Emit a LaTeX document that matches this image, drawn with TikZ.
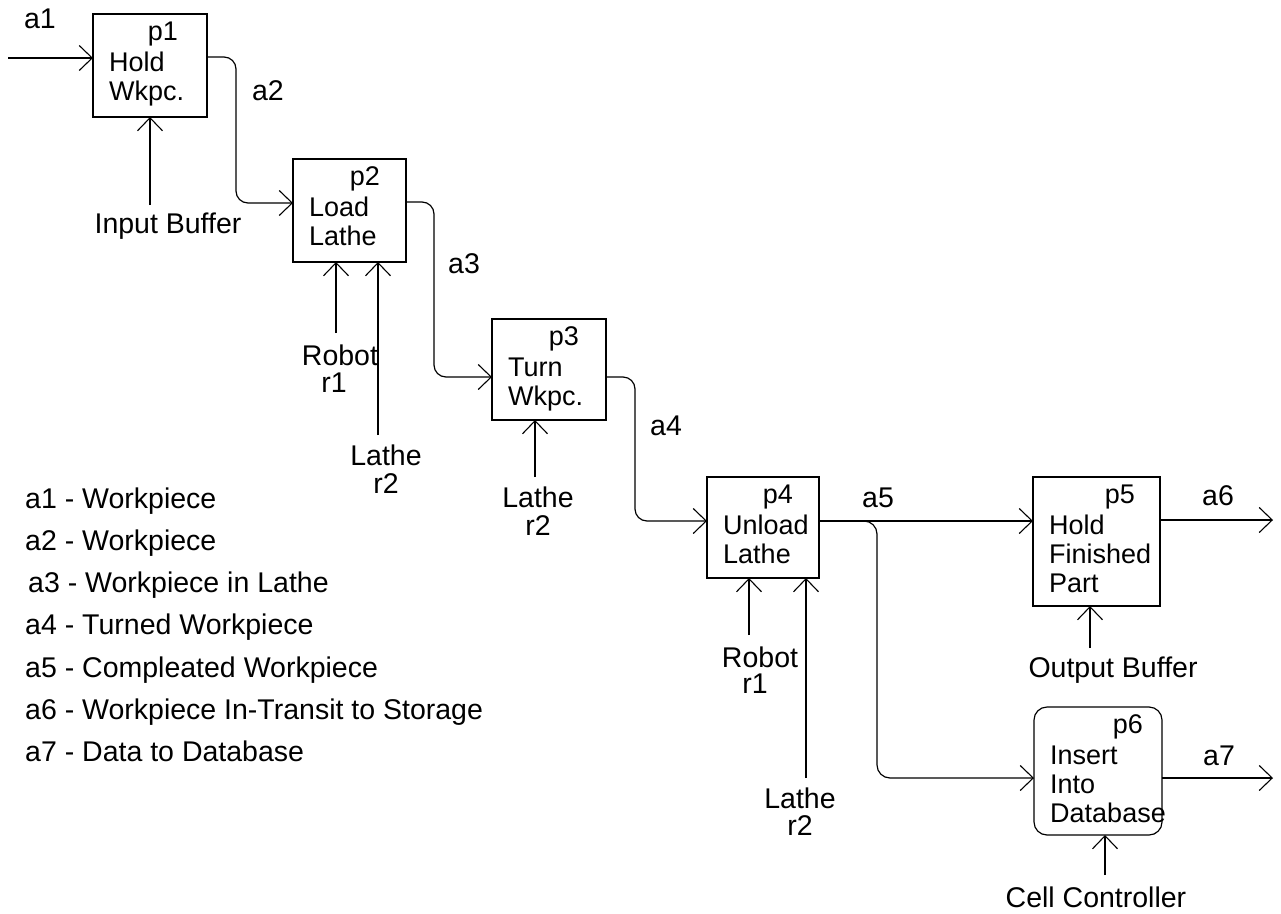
\documentclass[tikz,border=0pt]{standalone}
\usepackage{fontspec}
\setmainfont{Liberation Sans}
\usetikzlibrary{arrows.meta}
\newcommand{\procText}[4]{%
  \node[btxt, anchor=base east] (#1lab) at ([xshift=-#3pt, yshift=-26pt]#1.north east) {#2};
  \foreach \t [count=\i] in {#4} {
    \node[btxt, anchor=base west] (#1line\i) at ([xshift=16pt, yshift={-57pt-29.3pt*(\i-1)}]#1.north west) {\t};
  }
}
\begin{document}
\begin{tikzpicture}[x=1pt,y=-1pt,
  procbox/.style={draw, line width=1.2pt, inner sep=0pt, outer sep=0pt, anchor=north west},
  flow/.style={line width=1.2pt, -{Straight Barb[length=13pt,width=25pt,line width=1.1pt]}},
  elbow/.style={rounded corners=12pt},
  txt/.style={inner sep=0pt, font=\fontsize{28.5}{30}\selectfont},
  btxt/.style={inner sep=0pt, font=\fontsize{27}{29}\selectfont},
]
\useasboundingbox (0,0) rectangle (1281,913);

% process boxes
\node[procbox, minimum width=114pt, minimum height=103pt] (p1) at (93,14) {};
\node[procbox, minimum width=113pt, minimum height=103pt] (p2) at (293,159) {};
\node[procbox, minimum width=114pt, minimum height=101pt] (p3) at (492,319) {};
\node[procbox, minimum width=112pt, minimum height=101pt] (p4) at (707,477) {};
\node[procbox, minimum width=127pt, minimum height=129pt] (p5) at (1033,477) {};
\node[procbox, rounded corners=13pt, minimum width=128pt, minimum height=128pt] (p6) at (1034,707) {};

\procText{p1}{p1}{29}{Hold,Wkpc.}
\procText{p2}{p2}{26}{Load,Lathe}
\procText{p3}{p3}{27}{Turn,Wkpc.}
\procText{p4}{p4}{26}{Unload,Lathe}
\procText{p5}{p5}{25}{Hold,Finished,Part}
\procText{p6}{p6}{19}{Insert,Into,Database}

% flow coordinates
\coordinate (a1s) at (8,58);
\coordinate (k1) at (236,57);
\coordinate (k2) at (236,203);
\coordinate (k3) at (434,202);
\coordinate (k4) at (434,377);
\coordinate (k5) at (635,377);
\coordinate (k6) at (635,521);
\coordinate (k7) at (877,521);
\coordinate (k8) at (877,778);
\coordinate (k9) at (1273,520);
\coordinate (k10) at (1273,778);

\draw[flow] (a1s) -- (a1s -| p1.west);
\draw[flow, elbow] (k1 -| p1.east) -- (k1) -- (k2) -- (k2 -| p2.west);
\draw[flow, elbow] (k3 -| p2.east) -- (k3) -- (k4) -- (k4 -| p3.west);
\draw[flow, elbow] (k5 -| p3.east) -- (k5) -- (k6) -- (k6 -| p4.west);
\draw[flow] (k7 -| p4.east) -- (k7 -| p5.west);
\draw[flow, rounded corners=13pt] (k7 -| p4.east) -- (k7) -- (k8) -- (k8 -| p6.west);
\draw[flow] (k9 -| p5.east) -- (k9);
\draw[flow] (k10 -| p6.east) -- (k10);

% flow labels
\node[txt, anchor=base] (la1) at (40,28) {a1};
\node[txt, anchor=base] (la2) at (268,100) {a2};
\node[txt, anchor=base] (la3) at (464,273) {a3};
\node[txt, anchor=base] (la4) at (666,435) {a4};
\node[txt, anchor=base] (la5) at (878,507) {a5};
\node[txt, anchor=base] (la6) at (1218,505) {a6};
\node[txt, anchor=base] (la7) at (1219,765) {a7};

% resource arrows
\coordinate (c1) at (150,205);
\coordinate (c2) at (336,333);
\coordinate (c3) at (378,435);
\coordinate (c4) at (535,477);
\coordinate (c5) at (749,635);
\coordinate (c6) at (806,778);
\coordinate (c7) at (1090,648);
\coordinate (c8) at (1105,875);
\draw[flow] (c1) -- (c1 |- p1.south);
\draw[flow] (c2) -- (c2 |- p2.south);
\draw[flow] (c3) -- (c3 |- p2.south);
\draw[flow] (c4) -- (c4 |- p3.south);
\draw[flow] (c5) -- (c5 |- p4.south);
\draw[flow] (c6) -- (c6 |- p4.south);
\draw[flow] (c7) -- (c7 |- p5.south);
\draw[flow] (c8) -- (c8 |- p6.south);

% resource labels
\node[txt, anchor=base] (r-ib) at (168,233) {Input Buffer};
\node[txt, anchor=base] (r-rob2) at (340,365) {Robot};
\node[txt, anchor=base] (r-r12) at (334,392) {r1};
\node[txt, anchor=base] (r-lat2) at (386,465) {Lathe};
\node[txt, anchor=base] (r-r22) at (386,493) {r2};
\node[txt, anchor=base] (r-lat3) at (538,507) {Lathe};
\node[txt, anchor=base] (r-r23) at (538,535) {r2};
\node[txt, anchor=base] (r-rob4) at (760,667) {Robot};
\node[txt, anchor=base] (r-r14) at (755,693) {r1};
\node[txt, anchor=base] (r-lat4) at (800,808) {Lathe};
\node[txt, anchor=base] (r-r24) at (800,835) {r2};
\node[txt, anchor=base] (r-ob) at (1113,677) {Output Buffer};
\node[txt, anchor=base] (r-cc) at (1096,907) {Cell Controller};

% legend
\node[txt, anchor=base west] (leg1) at (25,508) {a1 - Workpiece};
\node[txt, anchor=base west] (leg2) at (25,550.3) {a2 - Workpiece};
\node[txt, anchor=base west] (leg3) at (28,592.6) {a3 - Workpiece in Lathe};
\node[txt, anchor=base west] (leg4) at (25,634.9) {a4 - Turned Workpiece};
\node[txt, anchor=base west] (leg5) at (25,677.2) {a5 - Compleated Workpiece};
\node[txt, anchor=base west] (leg6) at (25,719.5) {a6 - Workpiece In-Transit to Storage};
\node[txt, anchor=base west] (leg7) at (25,761.8) {a7 - Data to Database};
\end{tikzpicture}
\end{document}
